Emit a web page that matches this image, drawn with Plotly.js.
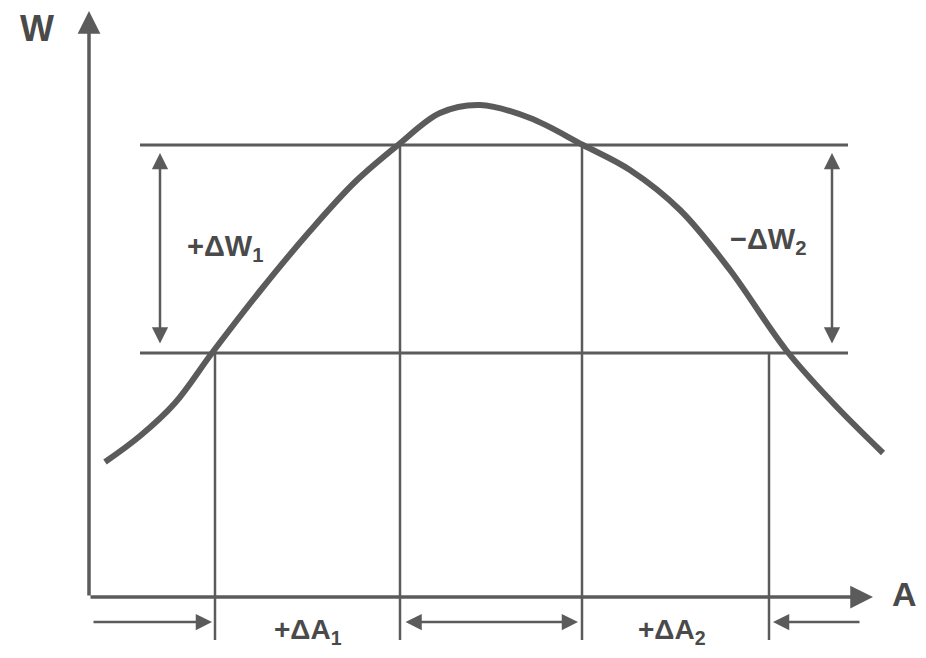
<!DOCTYPE html>
<html>
<head>
<meta charset="utf-8">
<script src="https://cdn.plot.ly/plotly-3.0.1.min.js"></script>
<style>
  html, body { margin: 0; padding: 0; background: #fff; }
  #chart { width: 926px; height: 658px; }
</style>
</head>
<body>
<div id="chart"></div>
<script>
// Curve W(A) (arbitrary units, origin at the axes corner)
const curveA = [1.6, 5.1, 8.6, 12.3, 17.1, 22.1, 26.6, 30.9, 35.1, 39.1, 44.1, 49.4, 54.1, 59.1, 64.1, 69.7, 74.4, 79.4];
const curveW = [13.5, 16.1, 19.4, 24.4, 30.6, 36.6, 41.5, 45.2, 48.4, 49.2, 47.9, 45.2, 42.7, 38.7, 32.7, 24.7, 19.4, 14.4];

// levels and marked abscissas
const levelW = [45.2, 24.4];          // upper and lower horizontal lines
const levelSpan = [5.1, 75.9];        // horizontal extent of those lines
const markA = [12.6, 31.1, 49.3, 68.0]; // vertical drop lines
const markTop = [24.4, 45.2, 45.2, 24.4];
const dropBottom = -4.3;

// axes extent
const axisEndA = 78.4;
const axisEndW = 58.6;

// dimension arrows
const dimWA = [7.1, 74.3];            // vertical double arrows at these A
const dimArrowY = -2.5;               // row of arrows under the A axis

const lineColor = '#5b5b5b';
const font = { family: 'Liberation Sans, Arial, sans-serif', color: '#4a4a4a' };

const curveTrace = {
    x: curveA,
    y: curveW,
    mode: 'lines',
    type: 'scatter',
    line: { color: lineColor, width: 6, shape: 'spline', smoothing: 1.0 },
    hoverinfo: 'skip'
};

const shapes = [];
// horizontal level lines
levelW.forEach(w => {
    shapes.push({ type: 'line', xref: 'x', yref: 'y', x0: levelSpan[0], x1: levelSpan[1], y0: w, y1: w,
        line: { color: lineColor, width: 3 } });
});
// vertical drop lines
markA.forEach((a, i) => {
    shapes.push({ type: 'line', xref: 'x', yref: 'y', x0: a, x1: a, y0: markTop[i], y1: dropBottom,
        line: { color: lineColor, width: 2.5 } });
});

function arrow(x0, y0, x1, y1, both, width) {
    return {
        x: x1, y: y1, ax: x0, ay: y0,
        xref: 'x', yref: 'y', axref: 'x', ayref: 'y',
        text: '', showarrow: true,
        arrowhead: 2, startarrowhead: 2, arrowsize: 1.3, startarrowsize: 1.3,
        arrowwidth: width || 2.5, arrowcolor: lineColor,
        arrowside: both ? 'end+start' : 'end',
        standoff: 0, startstandoff: 0
    };
}

function label(x, y, text, size) {
    return { x, y, xref: 'x', yref: 'y', text, showarrow: false,
        font: Object.assign({}, font, { size: size || 24, weight: 'bold' }) };
}

const annotations = [
    // axes
    arrow(0, 0, axisEndA, 0, false, 3.5),
    arrow(0, 0, 0, axisEndW, false, 3.5),
    // vertical dimension arrows
    arrow(dimWA[0], levelW[1] + 0.8, dimWA[0], levelW[0] - 0.8, true, 2.5),
    arrow(dimWA[1], levelW[1] + 0.8, dimWA[1], levelW[0] - 0.8, true, 2.5),
    // bottom arrows
    arrow(0.3, dimArrowY, markA[0] - 0.3, dimArrowY, false, 2.5),
    arrow(markA[1] + 0.4, dimArrowY, markA[2] - 0.4, dimArrowY, true, 2.5),
    arrow(77.2, dimArrowY, markA[3] + 0.4, dimArrowY, false, 2.5),
    // labels
    label(-5.2, 56.9, 'W', 36),
    label(81.5, 0.3, 'A', 34),
    label(13.6, 34.9, '+ΔW<sub>1</sub>', 29),
    label(67.9, 35.6, '−ΔW<sub>2</sub>', 29),
    label(21.9, -3.4, '+ΔA<sub>1</sub>', 28),
    label(58.3, -3.4, '+ΔA<sub>2</sub>', 28)
];

const layout = {
    width: 926,
    height: 658,
    margin: { l: 0, r: 0, t: 0, b: 0 },
    paper_bgcolor: '#ffffff',
    plot_bgcolor: '#ffffff',
    showlegend: false,
    xaxis: { range: [-8.9, 83.7], visible: false, fixedrange: true },
    yaxis: { range: [-6.1, 59.7], visible: false, fixedrange: true },
    shapes,
    annotations
};

Plotly.newPlot('chart', [curveTrace], layout, { displayModeBar: false, staticPlot: true });
</script>
</body>
</html>
